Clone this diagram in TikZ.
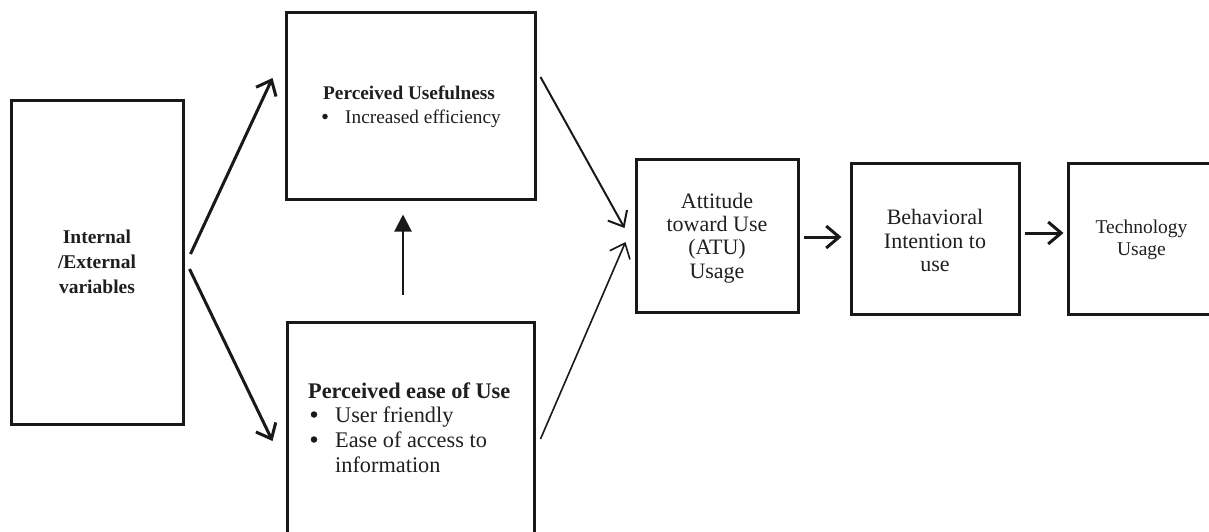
\documentclass[tikz,border=0pt]{standalone}
\usepackage{fontspec}
\setmainfont{Liberation Serif}
\usetikzlibrary{arrows.meta,calc}
\begin{document}
\begin{tikzpicture}[x=1pt,y=-1pt,
  box/.style={draw=black!90, line width=3pt, inner sep=0pt},
  txt/.style={inner sep=0pt, text=black!88},
  bul/.style={circle, fill=black!90, inner sep=0pt},
  chev/.style={-{Straight Barb[length=13pt,width=22pt]}, black!90},
  tri/.style={-{Triangle[length=17pt,width=17pt]}, black!90, line width=2.2pt}
]
\useasboundingbox (0,0) rectangle (1209,531);
\fill[white] (0,0) rectangle (1209,531);

% boxes
\node[box, minimum width=172pt, minimum height=324pt] (L) at (97,262) {};
\node[box, minimum width=249pt, minimum height=187pt] (PU) at (410.5,105.5) {};
\node[box, minimum width=247pt, minimum height=223pt] (PEU) at (410.5,433.5) {};
\node[box, minimum width=162pt, minimum height=153pt] (ATU) at (717,235.5) {};
\node[box, minimum width=168pt, minimum height=151pt] (BI) at (935,238.5) {};
\node[box, minimum width=147pt, minimum height=151pt] (TU) at (1141.5,238.5) {};

% texts
\node[txt, align=center, font=\bfseries\fontsize{19.5}{25}\selectfont] (Lt) at (L.center) {Internal\\/External\\variables};

\node[txt, anchor=base west, font=\bfseries\fontsize{19.3}{23}\selectfont] (PUt) at (323,99) {Perceived Usefulness};
\node[bul, minimum size=5.5pt] (PUb) at (325,116.5) {};
\node[txt, anchor=base west, font=\fontsize{19.3}{23}\selectfont] (PUi) at (345,123) {Increased efficiency};

\node[txt, anchor=base west, font=\bfseries\fontsize{22.3}{25}\selectfont] (PEUt) at (308,398) {Perceived ease of Use};
\node[bul, minimum size=6.5pt] (PEUb1) at (314,414.5) {};
\node[txt, anchor=base west, font=\fontsize{22.3}{25}\selectfont] (PEUi1) at (335,422) {User friendly};
\node[bul, minimum size=6.5pt] (PEUb2) at (314,439.5) {};
\node[txt, anchor=base west, font=\fontsize{22.3}{25}\selectfont] (PEUi2) at (335,447) {Ease of access to};
\node[txt, anchor=base west, font=\fontsize{22.3}{25}\selectfont] (PEUi3) at (335,472) {information};

\node[txt, align=center, font=\fontsize{22}{23.3}\selectfont] (ATUt) at (717,238) {Attitude\\toward Use\\(ATU)\\Usage};
\node[txt, align=center, font=\fontsize{22}{23.5}\selectfont] (BIt) at (935,240.5) {Behavioral\\Intention to\\use};
\node[txt, align=center, font=\fontsize{19.5}{22}\selectfont] (TUt) at (1141.5,240) {Technology\\Usage};

% connectors
\draw[chev, line width=3pt] ([shift={(6,-8)}]L.east) -- ([shift={(-12,-27.5)}]PU.west);
\draw[chev, line width=3pt] ([shift={(5,7)}]L.east) -- ([shift={(-13,7.5)}]PEU.west);
\draw[chev, line width=2pt] ([shift={(4,-28.5)}]PU.east) -- ([shift={(-10,-7.5)}]ATU.west);
\draw[chev, line width=1.6pt] ([shift={(5,5.5)}]PEU.east) -- ([shift={(-9,6.5)}]ATU.west);
\draw[tri] ([shift={(-7.5,-26)}]PEU.north) -- ([shift={(-7.5,14)}]PU.south);
\draw[chev, line width=3pt] ([shift={(4,1.5)}]ATU.east) -- ([shift={(-8,-1.5)}]BI.west);
\draw[chev, line width=3pt] ([shift={(4,-5.5)}]BI.east) -- ([shift={(-3,-5.5)}]TU.west);
\end{tikzpicture}
\end{document}
